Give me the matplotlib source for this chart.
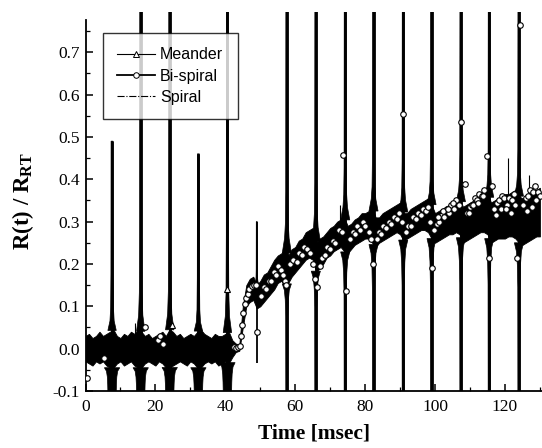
import numpy as np
import matplotlib
matplotlib.use("Agg")
import matplotlib.pyplot as plt
from matplotlib.lines import Line2D
from matplotlib.ticker import MultipleLocator, FormatStrFormatter

# ---------------- data ----------------
# dense noisy band of the measured signals (upper / lower envelope), 1 ms samples
band_t = list(range(0, 131))
band_hi = [0.03, 0.035, 0.025, 0.03, 0.04, 0.03, 0.035, 0.04, 0.045, 0.03,
           0.025, 0.035, 0.03, 0.04, 0.035, 0.045, 0.04, 0.03, 0.035, 0.025,
           0.03, 0.035, 0.04, 0.03, 0.045, 0.04, 0.03, 0.035, 0.025, 0.03,
           0.035, 0.03, 0.04, 0.045, 0.035, 0.03, 0.025, 0.035, 0.03, 0.03,
           0.035, 0.04, 0.02, 0.012, 0.01,
           0.10, 0.15, 0.165, 0.17, 0.15, 0.16, 0.175, 0.18, 0.195, 0.21,
           0.22, 0.225, 0.235, 0.22, 0.235, 0.24, 0.255, 0.26, 0.275, 0.28,
           0.285, 0.25, 0.26, 0.265, 0.275, 0.285, 0.29, 0.30, 0.305, 0.31,
           0.29, 0.295, 0.305, 0.31, 0.32, 0.32, 0.325, 0.335, 0.31, 0.31,
           0.32, 0.325, 0.33, 0.335, 0.34, 0.345, 0.32, 0.32, 0.33, 0.335,
           0.34, 0.345, 0.35, 0.355, 0.34, 0.32, 0.325, 0.33, 0.335, 0.34,
           0.345, 0.35, 0.355, 0.335, 0.34, 0.345, 0.35, 0.355, 0.36, 0.365,
           0.37, 0.345, 0.35, 0.355, 0.36, 0.365, 0.365, 0.37, 0.375, 0.36,
           0.355, 0.36, 0.365, 0.37, 0.375, 0.38]
band_lo = [-0.03, -0.035, -0.04, -0.03, -0.035, -0.03, -0.04, -0.045, -0.045, -0.035,
           -0.03, -0.04, -0.035, -0.03, -0.04, -0.045, -0.045, -0.035, -0.03, -0.035,
           -0.04, -0.03, -0.035, -0.045, -0.045, -0.04, -0.035, -0.03, -0.035, -0.04,
           -0.03, -0.035, -0.045, -0.045, -0.035, -0.03, -0.035, -0.03, -0.04, -0.035,
           -0.03, -0.035, -0.02, -0.008, -0.005,
           0.05, 0.10, 0.11, 0.115, 0.095, 0.10, 0.11, 0.12, 0.13, 0.14,
           0.155, 0.16, 0.15, 0.155, 0.17, 0.18, 0.19, 0.20, 0.21, 0.215,
           0.21, 0.18, 0.19, 0.20, 0.215, 0.22, 0.23, 0.235, 0.24, 0.23,
           0.225, 0.235, 0.245, 0.25, 0.255, 0.26, 0.26, 0.25, 0.24, 0.25,
           0.255, 0.26, 0.265, 0.27, 0.275, 0.27, 0.255, 0.26, 0.265, 0.27,
           0.275, 0.28, 0.28, 0.275, 0.26, 0.25, 0.255, 0.26, 0.265, 0.27,
           0.27, 0.275, 0.27, 0.25, 0.255, 0.26, 0.265, 0.27, 0.275, 0.275,
           0.27, 0.25, 0.255, 0.26, 0.26, 0.26, 0.265, 0.265, 0.26, 0.25,
           0.245, 0.25, 0.255, 0.26, 0.265, 0.265]

# periodic spikes
spike_t = [7.6, 15.8, 24.1, 32.3, 40.6, 49.0, 57.6, 65.9, 74.3, 82.4, 90.9, 99.0, 107.4, 115.5, 124.0]
spike_top = [0.49, 0.80, 0.80, 0.46, 0.80, 0.30, 0.80, 0.80, 0.80, 0.80, 0.80, 0.80, 0.80, 0.80, 0.80]
spike_bot = [-0.10, -0.10, -0.10, -0.10, -0.10, -0.035, -0.10, -0.10, -0.10, -0.10, -0.10, -0.10, -0.10, -0.10, -0.10]

# small isolated glitches
glitch_t = [14.2, 72.7, 120.8, 127.0]
glitch_top = [0.06, 0.34, 0.45, 0.41]
glitch_bot = [0.00, 0.28, 0.35, 0.36]

# Bi-spiral markers (visible open circles)
bis_t = [0.3, 5.2, 17.1, 20.6, 21.4, 22.2, 42.4, 43.0, 43.6, 44.2, 44.6, 44.9, 45.2, 45.5,
         45.9, 46.4, 46.9, 47.5, 48.1, 48.7, 49.0, 50.3, 51.0, 51.7, 52.4, 53.1, 53.8,
         54.5, 55.2, 55.8, 56.4, 57.0, 57.4, 58.6, 59.5, 60.5, 61.2, 61.9, 62.6, 63.3,
         64.3, 65.2, 65.7, 66.3, 67.1, 67.8, 68.5, 69.2, 69.9, 70.7, 71.4, 72.4, 73.3,
         73.8, 74.4, 75.7, 76.4, 77.1, 77.8, 78.6, 79.3, 80.0, 81.0, 81.8, 82.3,
         83.3, 84.0, 84.5, 85.2, 86.0, 86.7, 87.4, 88.2, 89.0, 89.8, 90.6, 90.9,
         91.7, 92.4, 93.1, 93.8, 94.5, 95.2, 95.9, 96.6, 97.3, 98.0, 98.6, 99.0,
         99.8, 100.5, 101.2, 101.9, 102.6, 103.3, 104.0, 104.7, 105.4, 106.1, 106.8,
         107.4, 108.6, 109.2, 109.9, 110.6, 111.3, 112.0, 112.7, 113.4, 114.1, 114.8,
         115.3, 116.2, 117.0, 117.7, 118.4, 119.1, 119.8, 120.5, 121.2, 121.9, 122.6,
         123.4, 124.3, 125.2, 125.9, 126.6, 127.3, 128.0, 128.7, 129.4, 130.1,
         100.9, 102.2, 103.7, 105.0, 109.6, 111.0, 112.4, 113.8, 117.4, 118.8,
         120.2, 121.6, 123.0, 126.2, 127.7, 129.0]
bis_v = [-0.07, -0.021, 0.05, 0.02, 0.03, 0.01, 0.003, 0.002, 0.004, 0.006, 0.03, 0.056,
         0.085, 0.105, 0.12, 0.13, 0.14, 0.147, 0.15, 0.15, 0.04, 0.125, 0.145, 0.14, 0.16,
         0.16, 0.18, 0.175, 0.195, 0.185, 0.175, 0.16, 0.15, 0.20, 0.21, 0.205, 0.225,
         0.22, 0.24, 0.235, 0.225, 0.20, 0.165, 0.145, 0.195, 0.215, 0.22, 0.24, 0.235,
         0.255, 0.25, 0.28, 0.275, 0.457, 0.135, 0.26, 0.275, 0.27, 0.29, 0.28, 0.30,
         0.29, 0.275, 0.26, 0.20, 0.26, 0.275, 0.27, 0.29, 0.285, 0.30, 0.295, 0.31,
         0.305, 0.32, 0.30, 0.555, 0.275, 0.29, 0.29, 0.31, 0.305, 0.32, 0.315, 0.33,
         0.325, 0.335, 0.30, 0.19, 0.28, 0.295, 0.30, 0.315, 0.31, 0.33, 0.32, 0.34, 0.33,
         0.35, 0.34, 0.535, 0.39, 0.32, 0.335, 0.34, 0.355, 0.35, 0.365, 0.36, 0.375, 0.455,
         0.215, 0.385, 0.33, 0.345, 0.35, 0.36, 0.355, 0.34, 0.355, 0.35, 0.365, 0.215, 0.765,
         0.34, 0.355, 0.36, 0.375, 0.37, 0.385, 0.37, 0.36, 0.31, 0.325, 0.33, 0.345, 0.32,
         0.34, 0.345, 0.36, 0.315, 0.33, 0.33, 0.32, 0.34, 0.325, 0.335, 0.35]

# Meander markers (visible open triangles)
mea_t = [24.8, 40.5]
mea_v = [0.055, 0.14]

# ---------------- style ----------------
plt.rcParams['font.family'] = ['Liberation Serif', 'DejaVu Serif']
plt.rcParams['mathtext.fontset'] = 'custom'
plt.rcParams['mathtext.rm'] = 'Liberation Serif:bold'
plt.rcParams['mathtext.bf'] = 'Liberation Serif:bold'
plt.rcParams['mathtext.it'] = 'Liberation Serif:bold'

fig = plt.figure(figsize=(5.42, 4.48), dpi=100)
ax = fig.add_axes([85.5 / 542, 57 / 448, (542 - 85.5) / 542, 379 / 448])
ax.set_xlim(0, 130.6)
ax.set_ylim(-0.1, 0.795)

# noise band
ax.fill_between(band_t, band_lo, band_hi, color='black', lw=0.6, zorder=2)

# spike cusps (shape profile = drawing style)
up_d1 = [1.2, 0.6, 0.4, 0.32, 0.28]
up_f1 = [0.0, 0.05, 0.12, 0.30, 1.0]
lo_d1 = [2.2, 1.6, 1.35, 1.25, 1.2]
lo_f1 = [0.0, 0.15, 0.4, 0.7, 1.0]
up_d2 = [1.3, 0.65, 0.42, 0.32, 0.28]
up_f2 = [0.0, 0.06, 0.12, 0.25, 1.0]
lo_d2 = [1.3, 0.7, 0.45, 0.33, 0.3]
lo_f2 = [0.0, 0.06, 0.15, 0.3, 1.0]
for ts, top, bot in zip(spike_t, spike_top, spike_bot):
    hi = np.interp(ts, band_t, band_hi)
    lo = np.interp(ts, band_t, band_lo)
    if ts < 44:
        ud, uf, ld, lf = up_d1, up_f1, lo_d1, lo_f1
    else:
        ud, uf, ld, lf = up_d2, up_f2, lo_d2, lo_f2
    if top < 0.35:
        ud = [d * 0.5 for d in ud]
    xs = [ts - d for d in ud] + [ts + d for d in ud[::-1]]
    ys = [hi + f * (top - hi) for f in uf] + [hi + f * (top - hi) for f in uf[::-1]]
    ax.fill(xs, ys, color='black', lw=0.5, zorder=2)
    if bot < -0.05:
        xs = [ts - d for d in ld] + [ts + d for d in ld[::-1]]
        ys = [lo - f * (lo - bot) for f in lf] + [lo - f * (lo - bot) for f in lf[::-1]]
        ax.fill(xs, ys, color='black', lw=0.5, zorder=2)
    ax.vlines(ts, bot, top, color='black', lw=2.0 if top > 0.35 else 1.3, zorder=2)

ax.vlines(glitch_t, glitch_bot, glitch_top, color='black', lw=0.8, zorder=2)

ax.plot(bis_t, bis_v, ls='none', marker='o', ms=4, mfc='white', mec='black', mew=0.8, zorder=3)
ax.plot(mea_t, mea_v, ls='none', marker='^', ms=4.5, mfc='white', mec='black', mew=0.8, zorder=3)

# axes cosmetics
for s in ['top', 'right']:
    ax.spines[s].set_visible(False)
for s in ['left', 'bottom']:
    ax.spines[s].set_linewidth(1.3)
ax.spines['left'].set_bounds(-0.1, 0.775)

ax.xaxis.set_major_locator(MultipleLocator(20))
ax.xaxis.set_minor_locator(MultipleLocator(10))
ax.yaxis.set_major_formatter(FormatStrFormatter('%.1f'))
ax.set_yticks([v / 10 for v in range(-1, 8)])
ax.set_yticks([v / 20 for v in range(-2, 16)], minor=True)
ax.tick_params(which='major', direction='in', length=5, width=1.1, labelsize=12.5, pad=4)
ax.tick_params(which='minor', direction='in', length=3, width=0.9)
ax.tick_params(axis='x', pad=6)

ax.set_xlabel('Time [msec]', fontsize=15.5, fontweight='bold', labelpad=6)
ax.set_ylabel(r'R(t) / R$_{\mathrm{RT}}$', fontsize=16.5, fontweight='bold', labelpad=12)

handles = [
    Line2D([], [], color='black', lw=0.8, marker='^', ms=4, mfc='white', mec='black', mew=0.7),
    Line2D([], [], color='black', lw=1.3, marker='o', ms=4, mfc='white', mec='black', mew=0.7),
    Line2D([], [], color='black', lw=0.8, ls='-.'),
]
leg = ax.legend(handles, ['Meander', 'Bi-spiral', 'Spiral'], loc='upper left',
                bbox_to_anchor=(0.0377, 0.945), borderaxespad=0, frameon=True,
                fancybox=False, edgecolor='black', handlelength=2.4, handletextpad=0.3,
                labelspacing=0.4, borderpad=0.9,
                prop={'family': ['Liberation Sans', 'DejaVu Sans'], 'size': 11.5})
leg.get_frame().set_linewidth(1.0)
leg.set_zorder(5)

fig.savefig('out.png', dpi=100)
